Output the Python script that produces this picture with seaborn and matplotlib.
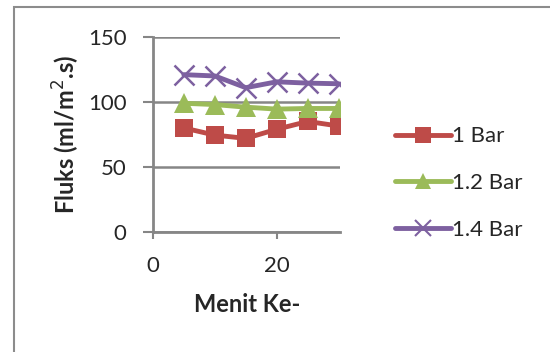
import matplotlib
matplotlib.use("Agg")
import matplotlib.pyplot as plt
import seaborn as sns
import pandas as pd
from matplotlib.patches import Rectangle
from matplotlib.lines import Line2D

sns.set_theme(style="white")
plt.rcParams["font.family"] = ["Lato", "DejaVu Sans"]

menit = [5, 10, 15, 20, 25, 30]
bar_1 = [80, 74.5, 72, 79, 85, 81.5]
bar_12 = [99, 98, 96, 94.5, 95, 95]
bar_14 = [121, 120, 111, 115.5, 114.5, 114]
series_names = ["1 Bar", "1.2 Bar", "1.4 Bar"]

df = pd.DataFrame({
    "Menit": menit * 3,
    "Fluks": bar_1 + bar_12 + bar_14,
    "Seri": [s for s in series_names for _ in menit],
})

colors = {"1 Bar": "#BE4B48", "1.2 Bar": "#9BBB59", "1.4 Bar": "#7D60A0"}
markers = {"1 Bar": "s", "1.2 Bar": "^", "1.4 Bar": "x"}
msizes = {"1 Bar": 13, "1.2 Bar": 15, "1.4 Bar": 14}

fig = plt.figure(figsize=(5.5, 3.52), dpi=100)
ax = fig.add_axes([0.278, 0.341, 0.340, 0.554])

for name in series_names:
    sub = df[df["Seri"] == name]
    sns.lineplot(data=sub, x="Menit", y="Fluks", ax=ax, color=colors[name],
                 linewidth=3.5, marker=markers[name], markersize=msizes[name],
                 markeredgewidth=1.8 if name == "1.4 Bar" else 0,
                 markeredgecolor=colors[name], legend=False, zorder=3)

ax.set_xlim(0, 30.2)
ax.set_ylim(0, 150)
ax.set_xticks([0, 20])
ax.set_yticks([0, 50, 100, 150])
grid_c = "#868686"
ax.yaxis.grid(True, color=grid_c, linewidth=1.8)
ax.xaxis.grid(False)
for side in ["top", "right"]:
    ax.spines[side].set_visible(False)
for side in ["left", "bottom"]:
    ax.spines[side].set_color(grid_c)
    ax.spines[side].set_linewidth(2)
ax.tick_params(axis="y", length=7, width=1.5, color=grid_c, labelsize=16, pad=12, left=True)
ax.tick_params(axis="x", length=5, width=1.5, color=grid_c, labelsize=16, pad=12, bottom=True)
ax.set_xlabel("")
ax.set_ylabel("")

# Axis titles placed in figure coordinates
fig.text(247 / 550, 1 - 305 / 352, "Menit Ke-", fontsize=17, fontweight="bold",
         ha="center", va="center")
fig.text(66 / 550, 1 - 134 / 352, "Fluks (ml/m$^{2}$.s)", fontsize=17,
         fontweight="bold", rotation=90, ha="center", va="center")

handles = [Line2D([], [], color=colors[n], linewidth=3.5, marker=markers[n],
                  markersize=12,
                  markeredgewidth=1.5 if n == "1.4 Bar" else 0,
                  markeredgecolor=colors[n]) for n in series_names]
fig.legend(handles, series_names, loc="center left", bbox_to_anchor=(0.682, 0.48),
           frameon=False, fontsize=16, handlelength=2.5, handletextpad=0.05,
           labelspacing=1.2)

# Chart-area border
fig.patches.append(Rectangle((14 / 550, -0.1), 1.2, 1 - 7 / 352 + 0.1,
                             transform=fig.transFigure, fill=False,
                             edgecolor="#8C8C8C", linewidth=1.5))

fig.savefig("out.png", dpi=100)
